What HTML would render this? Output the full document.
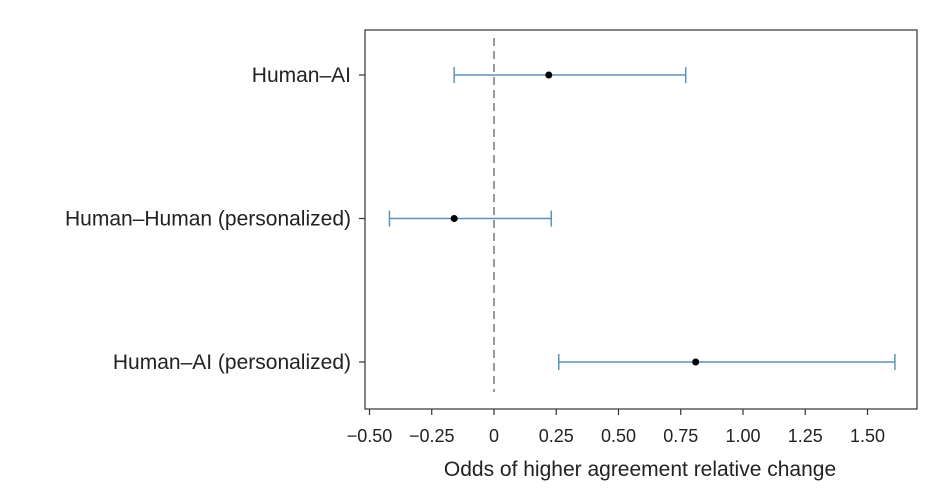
<!DOCTYPE html>
<html><head><meta charset="utf-8"><style>
body{margin:0;background:#fff;width:951px;height:493px;overflow:hidden}
svg text{font-family:"Liberation Sans",sans-serif;fill:#222}
</style></head><body>
<svg id="chart" width="951" height="493" xmlns="http://www.w3.org/2000/svg">
<rect x="365" y="30" width="552" height="379" fill="none" stroke="#333" stroke-width="1.2"/>
<g id="marks"></g>
<text x="640" y="476" font-size="21" text-anchor="middle">Odds of higher agreement relative change</text>
</svg>
<script>
const categories=["Human–AI","Human–Human (personalized)","Human–AI (personalized)"];
const estimates=[0.22,-0.16,0.81];
const lowers=[-0.16,-0.42,0.26];
const uppers=[0.77,0.23,1.61];
const tickValues=[-0.5,-0.25,0,0.25,0.5,0.75,1.0,1.25,1.5];
const tickLabels=["−0.50","−0.25","0","0.25","0.50","0.75","1.00","1.25","1.50"];
const NS="http://www.w3.org/2000/svg";
const svg=document.getElementById('chart');
const g=document.getElementById('marks');
const x=v=>494+v*249;
const y=i=>75+i*143.5;
function mk(t,a,p){const e=document.createElementNS(NS,t);for(const k in a)e.setAttribute(k,a[k]);(p||g).appendChild(e);return e;}
const z=mk('line',{x1:x(0),x2:x(0),y1:38,y2:392,stroke:'#999','stroke-width':2,'stroke-dasharray':'8,5'});


tickValues.forEach((v,i)=>{
  const t=mk('line',{x1:x(v),x2:x(v),y1:409,y2:415,stroke:'#333','stroke-width':1.2});
  
  
  const l=mk('text',{x:x(v),y:442,'font-size':18,'text-anchor':'middle'});
  l.textContent=tickLabels[i];
  
  
});
categories.forEach((c,i)=>{
  const yy=y(i);
  const t=mk('line',{x1:359,x2:365,y1:yy,y2:yy,stroke:'#333','stroke-width':1.2});
  
  
  const l=mk('text',{x:351,y:yy+7,'font-size':21,'text-anchor':'end'});
  l.textContent=c;
  
  
  const ci=mk('line',{x1:x(lowers[i]),x2:x(uppers[i]),y1:yy,y2:yy,stroke:'#5b93b8','stroke-width':1.5});
  
  
  [lowers[i],uppers[i]].forEach(v=>{
    const cap=mk('line',{x1:x(v),x2:x(v),y1:yy-8,y2:yy+8,stroke:'#5b93b8','stroke-width':1.5});
    
    
  });
  const p=mk('circle',{cx:x(estimates[i]),cy:yy,r:3.5,fill:'#000'});
  
  
});
</script>
</body></html>
